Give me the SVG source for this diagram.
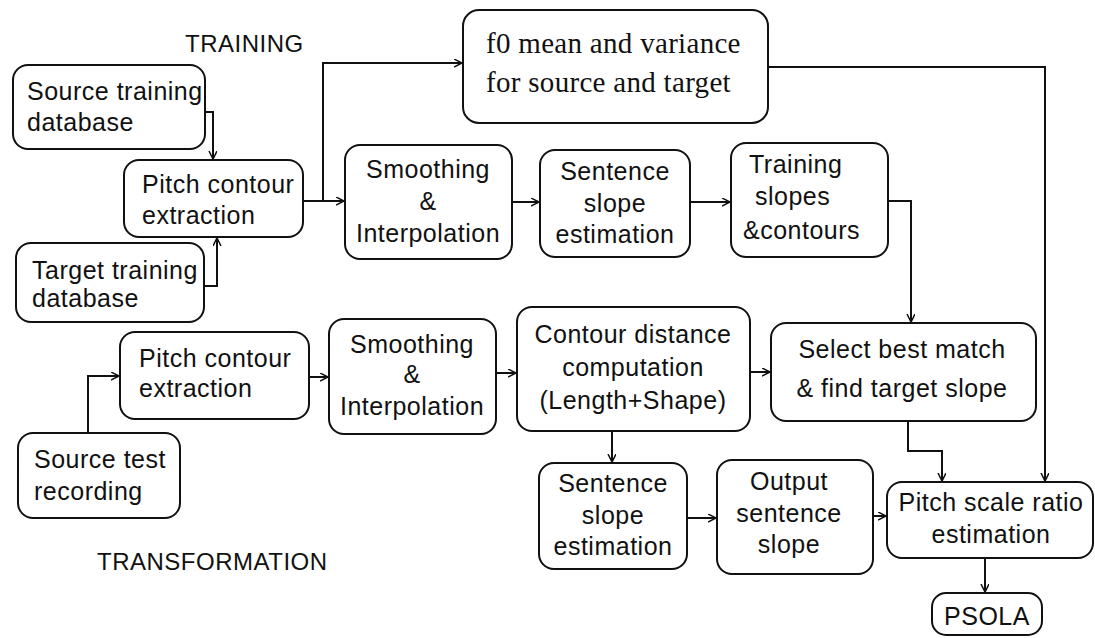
<svg xmlns="http://www.w3.org/2000/svg" width="1095" height="638" viewBox="0 0 1095 638">
<defs>
<marker id="arr" markerWidth="10" markerHeight="10" refX="8" refY="4" orient="auto" markerUnits="userSpaceOnUse">
<path d="M0,0 L8,4 L0,8" fill="none" stroke="#111" stroke-width="1.5"/>
</marker>
<style>
.box{fill:#fff;stroke:#111;stroke-width:2}
.t{font-family:"Liberation Sans",Arial,sans-serif;font-size:25px;letter-spacing:0.5px;fill:#111}
.c{text-anchor:middle}
.s{font-family:"Liberation Serif","Times New Roman",serif;font-size:29px;letter-spacing:0.3px;fill:#111}
.lbl{font-family:"Liberation Sans",Arial,sans-serif;font-size:24px;letter-spacing:0.5px;fill:#111}
.ln{fill:none;stroke:#111;stroke-width:2;marker-end:url(#arr)}
</style>
</defs>
<rect width="1095" height="638" fill="#fff"/>
<text class="lbl" x="185" y="52">TRAINING</text>
<text class="lbl" x="97" y="570">TRANSFORMATION</text>
<g id="connectors">
<path class="ln" d="M205,112 H213 V159"/>
<path class="ln" d="M204,286 H217 V238"/>
<path class="ln" d="M303,201 H344"/>
<path class="ln" d="M323,201 V63 H462"/>
<path class="ln" d="M512,202 H539"/>
<path class="ln" d="M690,202 H730"/>
<path class="ln" d="M888,201 H911 V322"/>
<path class="ln" d="M768,67 H1045 V481"/>
<path class="ln" d="M88,433 V376 H119"/>
<path class="ln" d="M309,377 H328"/>
<path class="ln" d="M496,373 H516"/>
<path class="ln" d="M750,372 H770"/>
<path class="ln" d="M612,431 V462"/>
<path class="ln" d="M687,518 H716"/>
<path class="ln" d="M873,516 H886"/>
<path class="ln" d="M908,421 V451 H942 V481"/>
<path class="ln" d="M985,558 V592"/>
</g>
<g id="n-src-train"><rect class="box" x="13" y="65" width="192" height="84" rx="15"/><text class="t" x="27" y="100">Source training</text><text class="t" x="27" y="131">database</text></g>
<g id="n-pitch-train"><rect class="box" x="124" y="160" width="179" height="77" rx="15"/><text class="t" x="142" y="193">Pitch contour</text><text class="t" x="142" y="224">extraction</text></g>
<g id="n-tgt-train"><rect class="box" x="16" y="243" width="188" height="79" rx="15"/><text class="t" x="32" y="279">Target training</text><text class="t" x="32" y="307">database</text></g>
<g id="n-f0"><rect class="box" x="463" y="10" width="305" height="113" rx="16"/><text class="s" x="486" y="53">f0 mean and variance</text><text class="s" x="486" y="92">for source and target</text></g>
<g id="n-smooth-train"><rect class="box" x="345" y="145" width="167" height="114" rx="15"/><text class="t c" x="428" y="178">Smoothing</text><text class="t c" x="428" y="210">&amp;</text><text class="t c" x="428" y="242">Interpolation</text></g>
<g id="n-sent-train"><rect class="box" x="540" y="150" width="150" height="107" rx="15"/><text class="t c" x="615" y="180">Sentence</text><text class="t c" x="615" y="212">slope</text><text class="t c" x="615" y="243">estimation</text></g>
<g id="n-train-slopes"><rect class="box" x="731" y="143" width="157" height="114" rx="15"/><text class="t" x="749" y="173">Training</text><text class="t" x="755" y="205">slopes</text><text class="t" x="743" y="239">&amp;contours</text></g>
<g id="n-src-test"><rect class="box" x="18" y="433" width="162" height="85" rx="15"/><text class="t" x="34" y="468">Source test</text><text class="t" x="34" y="500">recording</text></g>
<g id="n-pitch-tr"><rect class="box" x="120" y="332" width="189" height="87" rx="15"/><text class="t" x="139" y="367">Pitch contour</text><text class="t" x="139" y="397">extraction</text></g>
<g id="n-smooth-tr"><rect class="box" x="329" y="319" width="167" height="115" rx="15"/><text class="t c" x="412" y="353">Smoothing</text><text class="t c" x="412" y="383">&amp;</text><text class="t c" x="412" y="415">Interpolation</text></g>
<g id="n-contour"><rect class="box" x="517" y="307" width="233" height="124" rx="15"/><text class="t c" x="633" y="343">Contour distance</text><text class="t c" x="633" y="376">computation</text><text class="t c" x="633" y="409">(Length+Shape)</text></g>
<g id="n-select"><rect class="box" x="771" y="323" width="265" height="98" rx="15"/><text class="t c" x="902" y="358">Select best match</text><text class="t c" x="902" y="397">&amp; find target slope</text></g>
<g id="n-sent-tr"><rect class="box" x="539" y="463" width="148" height="106" rx="15"/><text class="t c" x="613" y="492">Sentence</text><text class="t c" x="613" y="524">slope</text><text class="t c" x="613" y="555">estimation</text></g>
<g id="n-output"><rect class="box" x="717" y="460" width="156" height="114" rx="15"/><text class="t c" x="789" y="490">Output</text><text class="t c" x="789" y="522">sentence</text><text class="t c" x="789" y="553">slope</text></g>
<g id="n-pitch-scale"><rect class="box" x="887" y="482" width="206" height="76" rx="15"/><text class="t c" x="991" y="511">Pitch scale ratio</text><text class="t c" x="991" y="543">estimation</text></g>
<g id="n-psola"><rect class="box" x="932" y="593" width="110" height="42" rx="14"/><text class="t c" x="987" y="625">PSOLA</text></g>
</svg>
